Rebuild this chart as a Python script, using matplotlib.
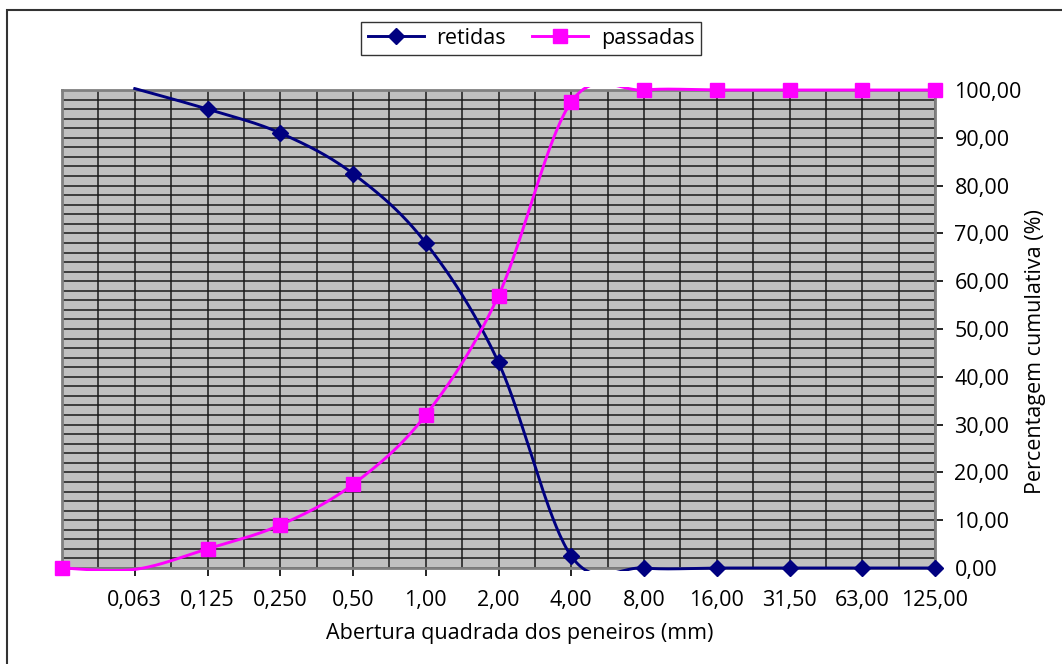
import numpy as np
import matplotlib.pyplot as plt
from matplotlib.patches import Rectangle
from matplotlib.ticker import MultipleLocator, FixedLocator

plt.rcParams['font.family'] = ['Open Sans', 'DejaVu Sans']

# dados da curva granulométrica
peneiros = ['', '0,063', '0,125', '0,250', '0,50', '1,00', '2,00', '4,00',
            '8,00', '16,00', '31,50', '63,00', '125,00']
retidas = [np.nan, 100.3, 96.0, 91.0, 82.5, 68.0, 43.0, 2.5, 0.0, 0.0, 0.0, 0.0, 0.0]
passadas = [0.0, -0.3, 4.0, 9.0, 17.5, 32.0, 57.0, 97.5, 100.0, 100.0, 100.0, 100.0, 100.0]

y_min, y_max = 0, 100


def suavizar(valores, n=40):
    # curva suave tipo Excel (Bezier com tangentes de Catmull-Rom)
    x = np.arange(len(valores), dtype=float)
    v = np.asarray(valores, dtype=float)
    ok = ~np.isnan(v)
    pts = np.column_stack([x[ok], v[ok]])
    xs, ys = [], []
    for i in range(len(pts) - 1):
        p0 = pts[i - 1] if i > 0 else pts[i]
        p1, p2 = pts[i], pts[i + 1]
        p3 = pts[i + 2] if i + 2 < len(pts) else pts[i + 1]
        c1 = p1 + (p2 - p0) / 6
        c2 = p2 - (p3 - p1) / 6
        t = np.linspace(0, 1, n)[:, None]
        b = (1 - t) ** 3 * p1 + 3 * (1 - t) ** 2 * t * c1 + 3 * (1 - t) * t ** 2 * c2 + t ** 3 * p2
        xs.append(b[:, 0])
        ys.append(b[:, 1])
    return np.concatenate(xs), np.concatenate(ys)


fig = plt.figure(figsize=(10.62, 6.64), dpi=100)
ax = fig.add_axes([62 / 1062, 1 - 568 / 664, (935 - 62) / 1062, (568 - 90) / 664])
ax.set_facecolor('#C0C0C0')

# recorte das linhas um pouco maior que a área do gráfico
px, py = 3 / 873, 3 / 478
clip = Rectangle((-px, -py), 1 + 2 * px, 1 + 2 * py, transform=ax.transAxes,
                 fill=False, visible=False)
ax.add_patch(clip)

series = [
    ('retidas', retidas, '#000080', 'D', 8.5),
    ('passadas', passadas, '#FF00FF', 's', 10),
]
for nome, vals, cor, mk, ms in series:
    xs, ys = suavizar(vals)
    ln, = ax.plot(xs, ys, color=cor, lw=2.1, zorder=3)
    ln.set_clip_path(clip)
    v = np.asarray(vals, dtype=float)
    idx = np.where((v >= y_min) & (v <= y_max))[0]
    ax.plot(idx, v[idx], ls='none', marker=mk, ms=ms, color=cor, zorder=4, clip_on=False)
    ax.plot([], [], color=cor, lw=2.1, marker=mk, ms=ms, label=nome)

ax.set_xlim(0, len(peneiros) - 1)
ax.set_ylim(y_min, y_max)

# grelha
ax.xaxis.set_major_locator(FixedLocator(range(len(peneiros))))
ax.set_xticklabels(peneiros)
ax.xaxis.set_minor_locator(MultipleLocator(0.5))
ax.yaxis.set_major_locator(MultipleLocator(10))
ax.yaxis.set_minor_locator(MultipleLocator(2))
ax.grid(True, which='both', color='#1a1a1a', lw=1.1, zorder=1)
ax.set_axisbelow(True)

ax.yaxis.tick_right()
ax.set_yticklabels([f'{t:.2f}'.replace('.', ',') for t in ax.get_yticks()])
ax.tick_params(axis='both', which='major', labelsize=15.5, length=6, width=1.2,
               color='black', direction='out', pad=8)
ax.tick_params(axis='x', which='major', pad=10)
ax.tick_params(axis='both', which='minor', length=0)

for s in ax.spines.values():
    s.set_color('#808080')
    s.set_linewidth(2)

fig.text(520 / 1062, 1 - 633 / 664, 'Abertura quadrada dos peneiros (mm)',
         ha='center', va='center', fontsize=15.5)
fig.text(1035 / 1062, 1 - 352 / 664, 'Percentagem cumulativa (%)',
         ha='center', va='center', rotation=90, fontsize=15.5)

leg = fig.legend(loc='center', bbox_to_anchor=(531 / 1062, 1 - 38.5 / 664), ncol=2,
                 fontsize=15.5, frameon=True, fancybox=False, edgecolor='black',
                 handlelength=2.6, columnspacing=1.2, borderpad=0.3, handletextpad=0.6)
leg.get_frame().set_linewidth(1.0)

# moldura exterior do gráfico
fig.add_artist(Rectangle((7 / 1062, -0.1), 2, 1 - 10 / 664 + 0.1,
                         transform=fig.transFigure, fill=False,
                         edgecolor='#333333', lw=1.5))

fig.savefig('out.png', dpi=100)
